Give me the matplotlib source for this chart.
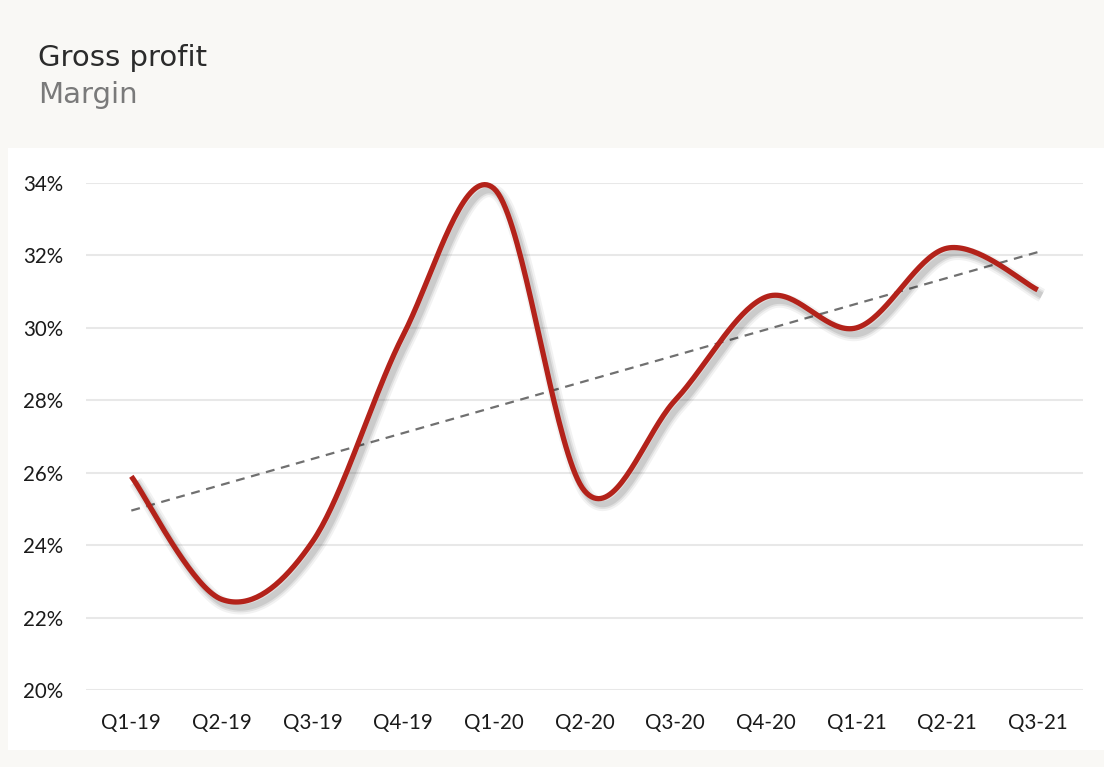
import numpy as np
import matplotlib.pyplot as plt
import matplotlib.patheffects as pe
from matplotlib.patches import Rectangle


quarters = ["Q1-19", "Q2-19", "Q3-19", "Q4-19", "Q1-20", "Q2-20",
            "Q3-20", "Q4-20", "Q1-21", "Q2-21", "Q3-21"]
margin = [25.9, 22.5, 24.1, 29.8, 33.85, 25.5, 28.0, 30.85, 30.0, 32.2, 31.05]
yticks = [20, 22, 24, 26, 28, 30, 32, 34]


def smooth_line(x, y, n=40):
    # Catmull-Rom style bezier, like a spreadsheet "smoothed line"
    x = np.asarray(x, float)
    y = np.asarray(y, float)
    px = np.concatenate([[x[0]], x, [x[-1]]])
    py = np.concatenate([[y[0]], y, [y[-1]]])
    xs, ys = [], []
    t = np.linspace(0, 1, n)
    for i in range(1, len(px) - 2):
        p0 = np.array([px[i], py[i]])
        p3 = np.array([px[i + 1], py[i + 1]])
        p1 = p0 + (np.array([px[i + 1], py[i + 1]]) - np.array([px[i - 1], py[i - 1]])) / 6
        p2 = p3 - (np.array([px[i + 2], py[i + 2]]) - np.array([px[i], py[i]])) / 6
        b = ((1 - t) ** 3)[:, None] * p0 + (3 * (1 - t) ** 2 * t)[:, None] * p1 \
            + (3 * (1 - t) * t ** 2)[:, None] * p2 + (t ** 3)[:, None] * p3
        xs.extend(b[:, 0])
        ys.extend(b[:, 1])
    return np.array(xs), np.array(ys)


fig = plt.figure(figsize=(11.04, 7.67), dpi=100, facecolor="#f9f8f5")
W, H = 1104, 767

# white panel behind the chart
fig.patches.append(Rectangle((8 / W, 1 - 750 / H), (W - 8) / W, (750 - 148) / H,
                             transform=fig.transFigure, facecolor="white",
                             edgecolor="none", zorder=-1))

fig.text(38 / W, 1 - 66 / H, "Gross profit", fontsize=21, color="#2b2b2b",
         family="DejaVu Sans", va="baseline")
fig.text(38 / W, 1 - 103 / H, "Margin", fontsize=21, color="#7a7a7a",
         family="DejaVu Sans", va="baseline")

ax = fig.add_axes([86 / W, 1 - 690 / H, (1083 - 86) / W, (690 - 183) / H])
ax.set_facecolor("none")

x = np.arange(len(quarters))
sx, sy = smooth_line(x, margin)

shadow = [pe.SimpleLineShadow(offset=(3, -4), shadow_color="black", alpha=0.05, linewidth=10),
          pe.SimpleLineShadow(offset=(3, -4), shadow_color="black", alpha=0.07, linewidth=7),
          pe.SimpleLineShadow(offset=(3, -4), shadow_color="black", alpha=0.09, linewidth=4.5),
          pe.Normal()]
ax.plot(sx, sy, color="#b3221a", lw=3.8, solid_capstyle="butt",
        path_effects=shadow, clip_on=False, zorder=3)

# linear trend line
a, b = np.polyfit(x, margin, 1)
ax.plot(x, a * x + b, color="#707070", lw=1.6, ls=(0, (4, 3)), zorder=2)

ax.set_xlim(-0.5, len(quarters) - 0.5)
ax.set_ylim(20, 34)
ax.set_yticks(yticks)
ax.set_yticklabels([f"{v}%" for v in yticks])
ax.set_xticks(x)
ax.set_xticklabels(quarters)
ax.grid(axis="y", color="#e8e8e8", lw=1.5)
ax.set_axisbelow(True)
for s in ax.spines.values():
    s.set_visible(False)
ax.tick_params(length=0, labelsize=14.8, colors="#1a1a1a")
ax.tick_params(axis="y", pad=16.5)
ax.tick_params(axis="x", pad=16.5)
for lab in ax.get_xticklabels() + ax.get_yticklabels():
    lab.set_family("Lato")

fig.savefig("out.png", dpi=100, facecolor=fig.get_facecolor())
